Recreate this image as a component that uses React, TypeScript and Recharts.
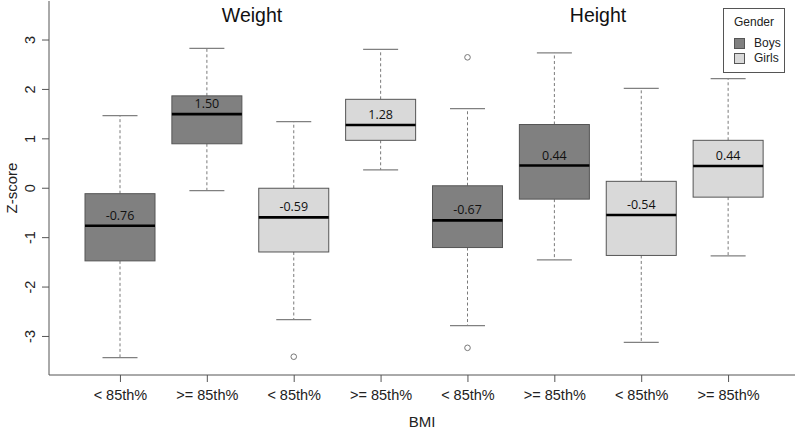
import React from 'react';
import { ComposedChart, Bar, XAxis, YAxis } from 'recharts';

// BMI group per box, in drawing order
const groups = ['< 85th%', '>= 85th%', '< 85th%', '>= 85th%', '< 85th%', '>= 85th%', '< 85th%', '>= 85th%'];
const genders = ['Boys', 'Boys', 'Girls', 'Girls', 'Boys', 'Boys', 'Girls', 'Girls'];

const whiskerLow = [-3.43, -0.05, -2.66, 0.37, -2.78, -1.45, -3.12, -1.37];
const q1 = [-1.47, 0.9, -1.29, 0.97, -1.2, -0.22, -1.36, -0.18];
const median = [-0.76, 1.5, -0.59, 1.28, -0.65, 0.46, -0.54, 0.45];
const q3 = [-0.11, 1.87, 0.0, 1.8, 0.05, 1.29, 0.14, 0.97];
const whiskerHigh = [1.47, 2.83, 1.35, 2.81, 1.61, 2.74, 2.02, 2.22];
const medianLabels = ['-0.76', '1.50', '-0.59', '1.28', '-0.67', '0.44', '-0.54', '0.44'];
const outliers: number[][] = [[], [], [-3.41], [], [2.65, -3.23], [], [], []];

const yTicks = [-3, -2, -1, 0, 1, 2, 3];

const colors: Record<string, string> = { Boys: '#808080', Girls: '#d9d9d9' };

const rows = groups.map((g, i) => {
  const all = [whiskerLow[i], whiskerHigh[i], ...outliers[i]];
  return {
    key: i,
    group: g,
    gender: genders[i],
    lo: whiskerLow[i],
    q1: q1[i],
    med: median[i],
    q3: q3[i],
    hi: whiskerHigh[i],
    label: medianLabels[i],
    out: outliers[i],
    span: [Math.min(...all), Math.max(...all)],
  };
});

const FONT = '"Liberation Sans", Arial, sans-serif';

function BoxShape(props: any) {
  const { x, y, width, height, payload } = props;
  const [sLo, sHi] = payload.span;
  const top = Math.min(y, y + height);
  const bottom = Math.max(y, y + height);
  const py = (v: number) => bottom - ((v - sLo) / (sHi - sLo)) * (bottom - top);
  const cx = x + width / 2;
  const cap = width / 4;
  const fill = colors[payload.gender];
  return (
    <g>
      <line x1={cx} x2={cx} y1={py(payload.q3)} y2={py(payload.hi)} stroke="#7a7a7a" strokeDasharray="3 2.5" />
      <line x1={cx} x2={cx} y1={py(payload.q1)} y2={py(payload.lo)} stroke="#7a7a7a" strokeDasharray="3 2.5" />
      <line x1={cx - cap} x2={cx + cap} y1={py(payload.hi)} y2={py(payload.hi)} stroke="#808080" strokeWidth={1.2} />
      <line x1={cx - cap} x2={cx + cap} y1={py(payload.lo)} y2={py(payload.lo)} stroke="#808080" strokeWidth={1.2} />
      <rect
        x={x}
        y={py(payload.q3)}
        width={width}
        height={py(payload.q1) - py(payload.q3)}
        fill={fill}
        stroke="#555"
        strokeWidth={1}
      />
      <line x1={x} x2={x + width} y1={py(payload.med)} y2={py(payload.med)} stroke="#000" strokeWidth={2.6} />
      <text
        x={cx}
        y={py(payload.med) - 10.5}
        textAnchor="middle"
        dominantBaseline="central"
        fontFamily='"Open Sans", sans-serif'
        fontSize={12.5}
        fill="#111"
      >
        {payload.label}
      </text>
      {payload.out.map((o: number, j: number) => (
        <circle key={j} cx={cx} cy={py(o)} r={2.8} fill="#fff" stroke="#777" strokeWidth={1} />
      ))}
    </g>
  );
}

function XTick({ x, y, payload }: any) {
  return (
    <text x={x} y={y} dy={16} textAnchor="middle" fontFamily={FONT} fontSize={14.5} fill="#222">
      {payload.value}
    </text>
  );
}

function YTick({ y, payload }: any) {
  const bx = 35.5;
  return (
    <text
      x={bx}
      y={y}
      transform={`rotate(-90, ${bx}, ${y})`}
      textAnchor="middle"
      fontFamily={FONT}
      fontSize={14.5}
      fill="#222"
    >
      {payload.value}
    </text>
  );
}

export default function App() {
  return (
    <div style={{ position: 'absolute', left: 0, top: 0, width: 800, height: 430, background: '#fff' }}>
      <ComposedChart width={800} height={430} data={rows} margin={{ top: 1, right: 5, bottom: 0, left: 0 }}>
        <XAxis
          dataKey="key"
          height={55}
          interval={0}
          padding={{ left: 28, right: 23 }}
          tickSize={7}
          stroke="#555"
          tick={(p: any) => <XTick {...p} payload={{ value: groups[p.payload.value] }} />}
          label={(p: any) => {
            const vb = p.viewBox;
            return (
              <text x={vb.x + vb.width / 2} y={vb.y + 52} textAnchor="middle" fontFamily={FONT} fontSize={15} fill="#222">
                BMI
              </text>
            );
          }}
        />
        <XAxis xAxisId="top" dataKey="key" orientation="top" height={0} tick={false} tickLine={false} stroke="#555" />
        <YAxis
          type="number"
          domain={[-3.78, 3.79]}
          ticks={yTicks}
          width={49}
          tickSize={7}
          stroke="#555"
          tick={<YTick />}
          label={(p: any) => {
            const vb = p.viewBox;
            const cy = vb.y + vb.height / 2;
            return (
              <text x={17} y={cy} transform={`rotate(-90, 17, ${cy})`} textAnchor="middle" fontFamily={FONT} fontSize={15} fill="#222">
                Z-score
              </text>
            );
          }}
        />
        <YAxis yAxisId="right" orientation="right" type="number" domain={[-3.78, 3.79]} width={0} tick={false} tickLine={false} stroke="#555" />
        <Bar dataKey="span" barSize={70} shape={<BoxShape />} isAnimationActive={false} />
      </ComposedChart>

      <div style={{ position: 'absolute', left: 252, top: 15, transform: 'translate(-50%, -50%)', fontFamily: FONT, fontSize: 19.5, color: '#111' }}>
        Weight
      </div>
      <div style={{ position: 'absolute', left: 598, top: 15, transform: 'translate(-50%, -50%)', fontFamily: FONT, fontSize: 19.5, color: '#111' }}>
        Height
      </div>

      <div
        style={{
          position: 'absolute',
          left: 723,
          top: 8,
          width: 60,
          height: 63,
          border: '1px solid #555',
          background: '#fff',
          fontFamily: FONT,
          fontSize: 12,
          color: '#222',
        }}
      >
        <div style={{ position: 'absolute', left: 0, right: 0, top: 6, textAlign: 'center' }}>Gender</div>
        {['Boys', 'Girls'].map((g, i) => (
          <div key={g} style={{ position: 'absolute', left: 10, top: 27 + i * 15, display: 'flex', alignItems: 'center' }}>
            <span style={{ display: 'inline-block', width: 9, height: 9, background: colors[g], border: '1px solid #555', marginRight: 9 }} />
            <span>{g}</span>
          </div>
        ))}
      </div>
    </div>
  );
}
